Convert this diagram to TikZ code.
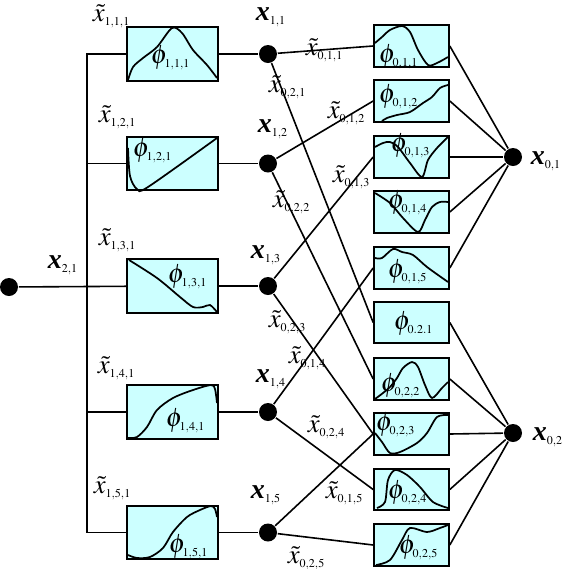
\documentclass[tikz,border=0pt]{standalone}
\usepackage{mathptmx}
\usepackage{amsmath}
\usepackage[no-math]{fontspec}
\newfontfamily\timesfont{Liberation Serif}
\usepackage{xcolor}
\usetikzlibrary{positioning}
\definecolor{boxcyan}{RGB}{204,255,255}
\DeclareMathSizes{20}{20}{9}{7}
\newcommand{\xb}[1]{$\mbox{\timesfont\fontsize{21}{24}\selectfont\bfseries\itshape x}_{#1}$}
\newcommand{\xt}[1]{$\tilde{x}_{#1}$}
\newcommand{\ph}[1]{$\phi_{#1}$}
\tikzset{
  unitbox/.style={draw, fill=boxcyan, line width=1.5pt, minimum width=68pt, minimum height=40pt, inner sep=0pt},
  outbox/.style={draw, fill=boxcyan, line width=1.5pt, minimum width=56pt, minimum height=31pt, inner sep=0pt},
  neuron/.style={circle, fill=black, minimum size=13.5pt, inner sep=0pt},
  lbl/.style={anchor=base west, inner sep=0pt},
  wave/.style={line width=1.3pt}
}

\begin{document}
\begin{tikzpicture}[x=0.75pt, y=-0.75pt, font=\fontsize{20}{22}\selectfont, line width=1.2pt]
  \useasboundingbox (0,0) rectangle (563,569);

  % inner functions
  \node[unitbox] (f111) at (172.5,54) {};
  \node[unitbox] (f121) at (172.5,163.5) {};
  \node[unitbox] (f131) at (172.5,286) {};
  \node[unitbox] (f141) at (172.5,412) {};
  \node[unitbox] (f151) at (172.5,532.5) {};

  % outer functions
  \node[outbox] (g011) at (411.5,46) {};
  \node[outbox] (g012) at (411.5,101) {};
  \node[outbox] (g013) at (411.5,157) {};
  \node[outbox] (g014) at (411.5,212) {};
  \node[outbox] (g015) at (411.5,268) {};
  \node[outbox] (g021) at (411.5,322.5) {};
  \node[outbox] (g022) at (411.5,379) {};
  \node[outbox] (g023) at (411.5,434) {};
  \node[outbox] (g024) at (411.5,489.5) {};
  \node[outbox] (g025) at (411.5,545) {};

  % nodes
  \node[neuron] (in1) at (9,287) {};
  \node[neuron] (h1) at (268,54) {};
  \node[neuron] (h2) at (268,163.5) {};
  \node[neuron] (h3) at (268,286) {};
  \node[neuron] (h4) at (268,412) {};
  \node[neuron] (h5) at (268,532.5) {};
  \node[neuron] (out1) at (513,157) {};
  \node[neuron] (out2) at (513,433) {};
  \coordinate (busbot) at (87,532.5);

  % curves in the boxes
  \draw[wave] plot[smooth] coordinates {(128,80) (133,67) (143,58) (157,47) (172,28) (182,33) (193,50) (207,65) (217,78)};
  \draw[wave] plot[smooth] coordinates {(128,148) (130,176) (137,189) (148,187) (217,138)};
  \draw[wave] plot[smooth] coordinates {(129,260) (157,278) (180,297) (193,307) (203,307) (210,305) (217,312)};
  \draw[wave] plot[smooth] coordinates {(128,438) (137,437) (147,427) (157,410) (173,398) (193,390) (211,385) (215,389) (217,403)};
  \draw[wave] plot[smooth] coordinates {(128,555) (137,558) (150,557) (163,548) (173,532) (187,517) (200,510) (211,506) (215,509) (217,517)};
  \draw[wave] plot[smooth] coordinates {(375,43) (382,37) (390,30) (402,26) (410,32) (418,50) (428,65) (437,63) (448,57)};
  \draw[wave] plot[smooth] coordinates {(382,121) (387,118) (397,115) (410,112) (423,103) (432,97) (440,88) (448,85)};
  \draw[wave] plot[smooth] coordinates {(375,147) (383,143) (390,142) (398,147) (410,163) (422,177) (428,160) (437,148) (448,137)};
  \draw[wave] plot[smooth] coordinates {(375,193) (390,203) (403,218) (418,232) (425,220) (432,207) (440,202) (448,202)};
  \draw[wave] plot[smooth] coordinates {(375,258) (382,258) (393,249) (402,252) (413,255) (427,267) (448,282)};
  \draw[wave] plot[smooth] coordinates {(375,399) (383,393) (390,387) (397,378) (403,368) (412,362) (418,367) (425,385) (432,398) (442,388) (448,382)};
  \draw[wave] plot[smooth] coordinates {(375,433) (382,442) (390,453) (400,452) (417,443) (427,433) (437,417) (448,415)};
  \draw[wave] plot[smooth] coordinates {(377,508) (385,502) (388,480) (395,470) (407,475) (420,487) (433,502) (448,508)};
  \draw[wave] plot[smooth] coordinates {(376,565) (390,560) (402,540) (410,528) (427,532) (440,528) (448,525)};

  % connectors
  \draw (in1) -- (f131);
  \draw (f111.west) -| (busbot) -- (f151.west);
  \draw (f121.west) -- (f121.west -| busbot);
  \draw (f141.west) -- (f141.west -| busbot);
  \draw (f111) -- (h1);
  \draw (f121) -- (h2);
  \draw (f131) -- (h3);
  \draw (f141) -- (h4);
  \draw (f151) -- (h5);
  \draw (h1) -- (g011.west);
  \draw (h1) -- (g021.west);
  \draw (h2) -- (g012.west);
  \draw (h2) -- (g022.west);
  \draw (h3) -- (g013.west);
  \draw (h3) -- (g023.west);
  \draw (h4) -- (g015.west);
  \draw (h4) -- (g024.west);
  \draw (h5) -- (g023.west);
  \draw (h5) -- (g025.west);
  \draw (g011.east) -- (out1);
  \draw (g012.east) -- (out1);
  \draw (g013.east) -- (out1);
  \draw (g014.east) -- (out1);
  \draw (g015.east) -- (out1);
  \draw (g021.east) -- (out2);
  \draw (g022.east) -- (out2);
  \draw (g023.east) -- (out2);
  \draw (g024.east) -- (out2);
  \draw (g025.east) -- (out2);

  % labels
  \node[lbl] (l21) at (47,268) {\xb{2,1}};
  \node[lbl] (l111) at (92,21) {\xt{1,1,1}};
  \node[lbl] (l121) at (98,122) {\xt{1,2,1}};
  \node[lbl] (l131) at (98,245) {\xt{1,3,1}};
  \node[lbl] (l141) at (97,373) {\xt{1,4,1}};
  \node[lbl] (l151) at (93,493) {\xt{1,5,1}};
  \node[lbl] (l11) at (255,20) {\xb{1,1}};
  \node[lbl] (l12) at (257,132) {\xb{1,2}};
  \node[lbl] (l13) at (250,258) {\xb{1,3}};
  \node[lbl] (l14) at (255,382) {\xb{1,4}};
  \node[lbl] (l15) at (250,498) {\xb{1,5}};
  \node[lbl] (l011) at (305,55) {\xt{0,1,1}};
  \node[lbl] (l021) at (268,92) {\xt{0,2,1}};
  \node[lbl] (l012) at (327,118) {\xt{0,1,2}};
  \node[lbl] (l013) at (332,182) {\xt{0,1,3}};
  \node[lbl] (l022) at (272,207) {\xt{0,2,2}};
  \node[lbl] (l023) at (268,327) {\xt{0,2,3}};
  \node[lbl] (l014) at (288,363) {\xt{0,1,4}};
  \node[lbl] (l024) at (307,432) {\xt{0,2,4}};
  \node[lbl] (l015) at (325,498) {\xt{0,1,5}};
  \node[lbl] (l025) at (287,563) {\xt{0,2,5}};
  \node[lbl] (lo1) at (530,164) {\xb{0,1}};
  \node[lbl] (lo2) at (532,440) {\xb{0,2}};

  \node[lbl] (p111) at (150,63) {\ph{1,1,1}};
  \node[lbl] (p121) at (132,156) {\ph{1,2,1}};
  \node[lbl] (p131) at (167,282) {\ph{1,3,1}};
  \node[lbl] (p141) at (165,426) {\ph{1,4,1}};
  \node[lbl] (p151) at (168,552) {\ph{1,5,1}};
  \node[lbl] (p011) at (378,62) {\ph{0,1,1}};
  \node[lbl] (p012) at (378,102) {\ph{0,1,2}};
  \node[lbl] (p013) at (390,151) {\ph{0,1,3}};
  \node[lbl] (p014) at (387,208) {\ph{0,1,4}};
  \node[lbl] (p015) at (387,277) {\ph{0,1,5}};
  \node[lbl] (p021) at (393,329) {\ph{0.2.1}};
  \node[lbl] (p022) at (380,391) {\ph{0,2,2}};
  \node[lbl] (p023) at (375,430) {\ph{0,2,3}};
  \node[lbl] (p024) at (387,498) {\ph{0,2,4}};
  \node[lbl] (p025) at (398,553) {\ph{0,2,5}};
\end{tikzpicture}
\end{document}
